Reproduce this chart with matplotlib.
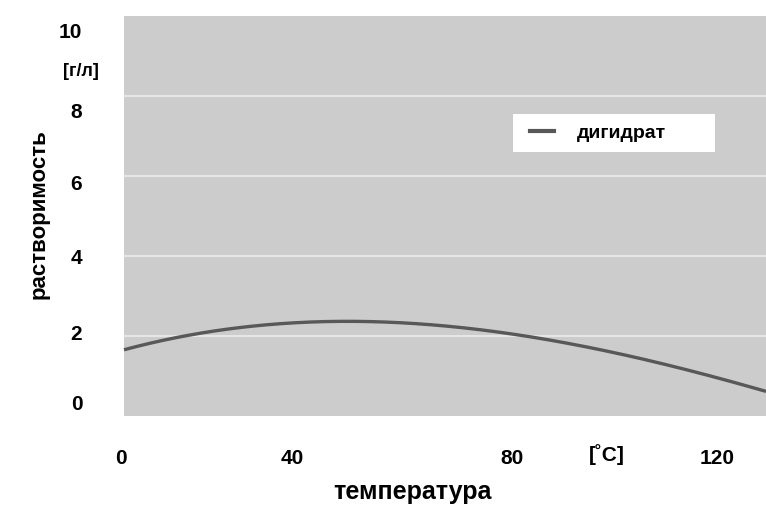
import matplotlib
matplotlib.use("Agg")
import matplotlib.pyplot as plt
from matplotlib.patches import Rectangle
from matplotlib.lines import Line2D
from matplotlib.transforms import ScaledTranslation
import numpy as np

# Solubility of the dihydrate vs temperature
temperature = [0, 15, 28, 44, 56, 78, 96, 119, 130]
solubility = [1.65, 2.07, 2.27, 2.37, 2.32, 2.07, 1.65, 1.02, 0.6]
series_name = "дигидрат"

x_ticks = [0, 40, 80, 120]
y_ticks = [0, 2, 4, 6, 8, 10]

plt.rcParams['font.family'] = ['Liberation Sans', 'DejaVu Sans']

W, H = 766, 505
fig = plt.figure(figsize=(W / 100, H / 100), dpi=100)
fig.patch.set_facecolor('white')

ax = fig.add_axes([124 / W, 1 - 416 / H, (766 - 124) / W, (416 - 16) / H])
ax.set_facecolor('#cccccc')
for s in ax.spines.values():
    s.set_visible(False)

ax.set_xlim(0, 130)
ax.set_ylim(0, 10)

# white horizontal grid lines at the inner y ticks
for yv in y_ticks[1:-1]:
    ax.axhline(yv, color='#ececec', lw=1.2, zorder=1)

# smooth curve through the read-off points
t = np.array(temperature, dtype=float)
s = np.array(solubility, dtype=float)
coef = np.polyfit(t, s, 3)
tt = np.linspace(t.min(), t.max(), 300)
ax.plot(tt, np.polyval(coef, tt), color='#585858', lw=2.4, zorder=3,
        solid_capstyle='butt', clip_on=False)

ax.set_xticks(x_ticks)
ax.set_xticklabels([str(v) for v in x_ticks], fontsize=15, fontweight='bold')
ax.set_yticks(y_ticks)
ax.set_yticklabels([str(v) for v in y_ticks], fontsize=15, fontweight='bold')
ax.tick_params(axis='x', length=0, pad=24)
ax.tick_params(axis='y', length=0, pad=30)

# nudge tick labels (pixel offsets) to the printed layout
x_shift = [-3, -29, -7, 1]
y_shift = [-14, -3, 1, 6, 15, 14]
for lab, dx in zip(ax.get_xticklabels(), x_shift):
    lab.set_transform(lab.get_transform() + ScaledTranslation(dx / 100, 0, fig.dpi_scale_trans))
for lab, dy in zip(ax.get_yticklabels(), y_shift):
    lab.set_transform(lab.get_transform() + ScaledTranslation(0, -dy / 100, fig.dpi_scale_trans))

# units
fig.text(81 / W, 1 - 72 / H, '[г/л]', fontsize=13, fontweight='bold',
         ha='center', va='center')
fig.text(607 / W, 1 - 455 / H, '[˚C]', fontsize=15, fontweight='bold',
         ha='center', va='center')

# axis titles
fig.text(412 / W, 1 - 492 / H, 'температура', fontsize=18, fontweight='bold',
         ha='center', va='center')
fig.text(39 / W, 1 - 214 / H, 'растворимость', fontsize=16, fontweight='bold',
         ha='center', va='center', rotation=90)

# legend on a white box
ax.add_patch(Rectangle((513 / W, 1 - 152 / H), (715 - 513) / W, (152 - 114) / H,
                       transform=fig.transFigure, facecolor='white',
                       edgecolor='none', zorder=4))
handle = Line2D([], [], color='#585858', lw=3)
leg = ax.legend([handle], [series_name], loc='center left',
                bbox_to_anchor=(530 / W, 1 - 133 / H), bbox_transform=fig.transFigure,
                frameon=False, prop={'size': 14, 'weight': 'bold'},
                handlelength=1.24, handletextpad=1.15, borderpad=0, borderaxespad=0)
leg.set_zorder(5)

fig.savefig('out.png', dpi=100)
